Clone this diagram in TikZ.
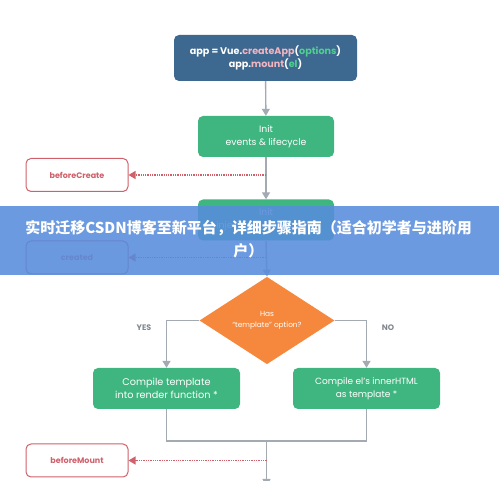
\documentclass[tikz,border=0pt]{standalone}
\usepackage{fontspec}
\setmainfont{Poppins}
\newfontfamily\cjk{Noto Sans CJK SC}
\usetikzlibrary{arrows.meta,shapes.geometric}
\definecolor{vuenavy}{HTML}{3D6890}
\definecolor{vuegreen}{HTML}{3FB67F}
\definecolor{hookred}{HTML}{D0606A}
\definecolor{linegray}{HTML}{A3AAB2}
\definecolor{decorange}{HTML}{F5883C}
\definecolor{bannerblue}{HTML}{578CDC}
\definecolor{optgreen}{HTML}{4FD08F}
\definecolor{fnpink}{HTML}{F2B5C0}
\begin{document}
\begin{tikzpicture}[x=1pt,y=-1pt,
    appbox/.style={fill=vuenavy,text=white,rounded corners=5pt,
      minimum width=183pt,minimum height=46pt,align=center,
      font=\fontsize{9.6}{13}\selectfont\bfseries},
    stepbox/.style={fill=vuegreen,text=white,rounded corners=5pt,
      minimum width=136pt,minimum height=41pt,align=center,
      font=\fontsize{9.3}{13}\selectfont},
    hookbox/.style={draw=hookred,line width=1pt,fill=white,text=hookred,
      rounded corners=5pt,minimum width=102pt,minimum height=33pt,
      font=\fontsize{8}{10}\selectfont\bfseries},
    flow/.style={draw=linegray,line width=1.4pt,
      -{Triangle[width=8pt,length=7pt]}},
    joinline/.style={draw=linegray,line width=1.4pt},
    hookline/.style={draw=hookred,line width=1.3pt,densely dotted,
      -{Triangle[width=8pt,length=7pt]}},
    branch/.style={text=linegray!80!black,font=\fontsize{8}{10}\selectfont\bfseries}]
  \useasboundingbox (0,0) rectangle (499,481);
  % main column
  \node[appbox] (app) at (265.5,58)
    {app = Vue.{\color{fnpink}createApp}({\color{optgreen}options})\\
     app.{\color{fnpink}mount}({\color{optgreen}el})};
  \node[stepbox] (initev) at (266,136.5) {Init\\events \& lifecycle};
  \node[stepbox] (initinj) at (266,220) {Init\\injections \& reactivity};
  \node[shape=diamond,fill=decorange,text=white,minimum width=135pt,
    minimum height=71pt,inner sep=0pt,align=center,
    font=\fontsize{7.4}{11}\selectfont] (has) at (267,320.5)
    {Has\\``template'' option?};
  \node[stepbox,minimum width=147pt,font=\fontsize{9.7}{13.5}\selectfont]
    (cmptpl) at (166.5,388.5) {Compile template\\into render function *};
  \node[stepbox,minimum width=147pt,font=\fontsize{9}{13}\selectfont]
    (cmphtml) at (366.5,388.5) {Compile el's innerHTML\\as template *};
  % hooks
  \node[hookbox] (bcreate) at (77,175) {beforeCreate};
  \node[hookbox] (created) at (77,257.5) {created};
  \node[hookbox] (bmount) at (77,460.5) {beforeMount};
  \node[branch] (yes) at (144,328) {YES};
  \node[branch] (no) at (388,328) {NO};
  \coordinate (tapcreate) at (266,175);
  \coordinate (tapcreated) at (266,257.5);
  \coordinate (tapmount) at (266.5,460.5);
  \coordinate (merge) at (266.5,441);
  \coordinate (tail) at (266.5,486);
  % connectors
  \draw[flow] (app) -- (initev);
  \draw[flow] (initev) -- (initinj);
  \draw[flow] (initinj.south) -- (has.north);
  \draw[flow] (has.west) -| (cmptpl.north);
  \draw[flow] (has.east) -| (cmphtml.north);
  \draw[joinline] (cmptpl.south) |- (merge) -| (cmphtml.south);
  \draw[flow] (merge) -- (tail);
  \draw[hookline] (tapcreate) -- (bcreate);
  \draw[hookline] (tapcreated) -- (created);
  \draw[hookline] (tapmount) -- (bmount);
  % banner
  \node[fill=bannerblue,fill opacity=0.88,minimum width=499pt,
    minimum height=69pt,inner sep=0pt] (banner) at (249.5,240.5) {};
  \node[text=white,align=center,font=\cjk\bfseries\fontsize{15}{23}\selectfont]
    (title) at (248.5,239.5)
    {实时迁移CSDN博客至新平台，详细步骤指南（适合初学者与进阶用\\户）};
\end{tikzpicture}
\end{document}
